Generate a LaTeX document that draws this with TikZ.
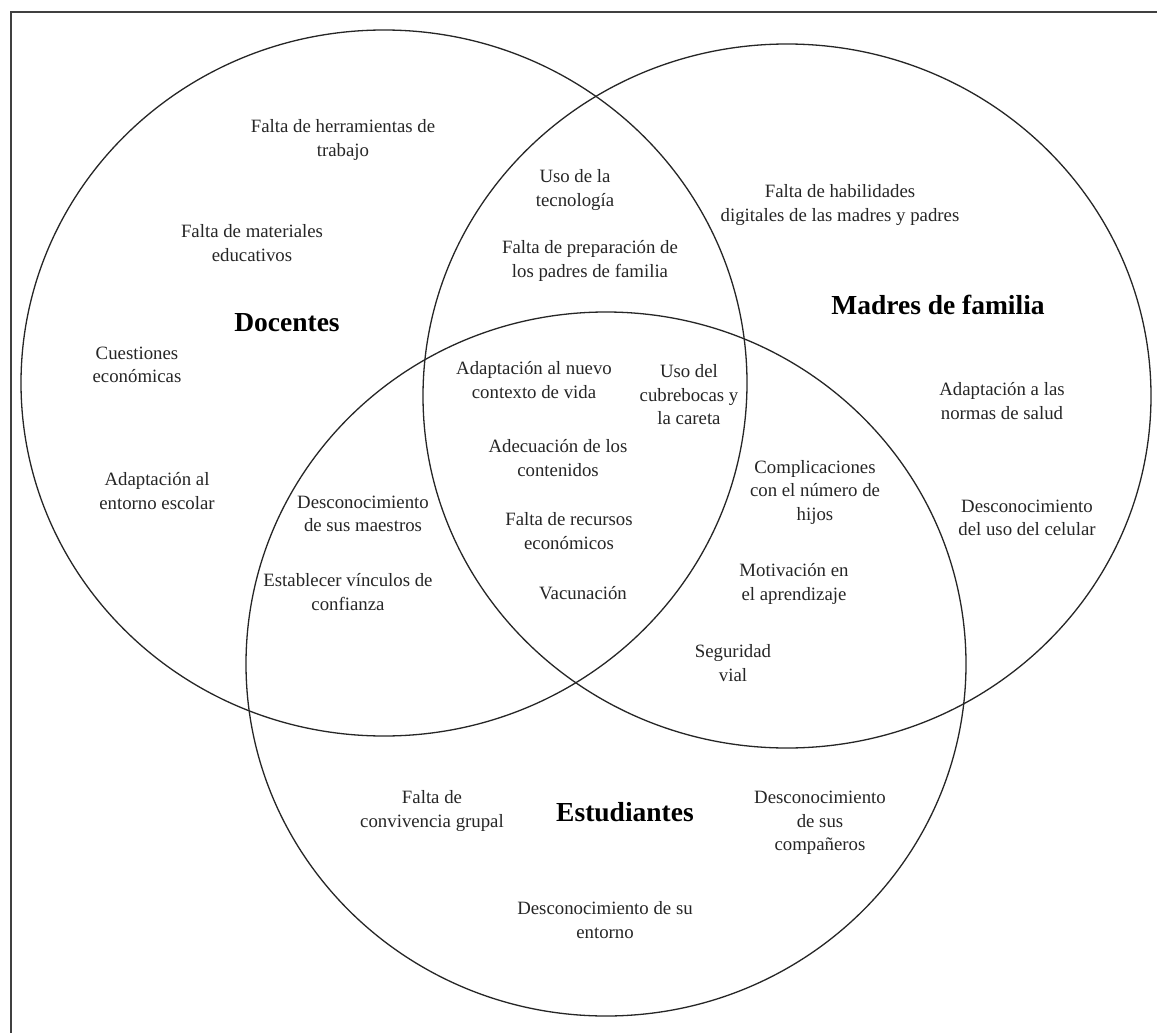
\documentclass[tikz,border=0pt]{standalone}
\usepackage{fontspec}
\setmainfont{Liberation Serif}
\begin{document}
\begin{tikzpicture}[x=1pt,y=-1pt,
  ring/.style={draw=black!85, line width=1.3pt},
  lbl/.style={align=center, inner sep=0pt, text=black!85,
    font=\fontsize{18.8}{23.5}\selectfont},
  head/.style={align=center, inner sep=0pt,
    font=\fontsize{27.5}{30}\selectfont\bfseries}]
\useasboundingbox (0,0) rectangle (1157,1033);
\fill[white] (0,0) rectangle (1157,1033);
% outer frame (left and top edges)
\draw[line width=1.3pt, black!75] (1157,12) -- (11,12) -- (11,1033);

% the three sets
\draw[ring] (384,383) ellipse [x radius=363pt, y radius=353pt];
\draw[ring] (787,396) ellipse [x radius=364pt, y radius=352pt];
\draw[ring] (606,664) ellipse [x radius=360pt, y radius=352pt];

% set titles
\node[head] (tDoc) at (287,323) {Docentes};
\node[head] (tMad) at (938,305) {Madres de familia};
\node[head] (tEst) at (625,812) {Estudiantes};

% Docentes only
\node[lbl] (herr) at (343,140) {Falta de herramientas de\\trabajo};
\node[lbl] (mat) at (252,243) {Falta de materiales\\educativos};
\node[lbl] (cue) at (137,365) {Cuestiones\\económicas};
\node[lbl] (ent) at (157,491) {Adaptación al\\entorno escolar};

% Docentes and Madres
\node[lbl] (tec) at (575,190) {Uso de la\\tecnología};
\node[lbl] (prep) at (590,261) {Falta de preparación de\\los padres de familia};

% Madres only
\node[lbl] (hab) at (840,205) {Falta de habilidades\\digitales de las madres y padres};
\node[lbl] (sal) at (1002,401) {Adaptación a las\\normas de salud};
\node[lbl] (cel) at (1027,518) {Desconocimiento\\del uso del celular};

% all three
\node[lbl] (nue) at (534,380) {Adaptación al nuevo\\contexto de vida};
\node[lbl] (cub) at (689,395) {Uso del\\cubrebocas y\\la careta};
\node[lbl] (ade) at (558,458) {Adecuación de los\\contenidos};
\node[lbl] (rec) at (569,531) {Falta de recursos\\económicos};
\node[lbl] (vac) at (583,593) {Vacunación};

% Docentes and Estudiantes
\node[lbl] (mae) at (363,514) {Desconocimiento\\de sus maestros};
\node[lbl] (vin) at (348,592) {Establecer vínculos de\\confianza};

% Madres and Estudiantes
\node[lbl] (hij) at (815,492) {Complicaciones\\con el número de\\hijos};
\node[lbl] (mot) at (794,584) {Motivación en\\el aprendizaje};
\node[lbl] (seg) at (733,663) {Seguridad\\vial};

% Estudiantes only
\node[lbl] (con) at (432,811) {Falta de\\convivencia grupal};
\node[lbl] (com) at (820,823) {Desconocimiento\\de sus\\compañeros};
\node[lbl] (ent2) at (605,920) {Desconocimiento de su\\entorno};
\end{tikzpicture}
\end{document}
